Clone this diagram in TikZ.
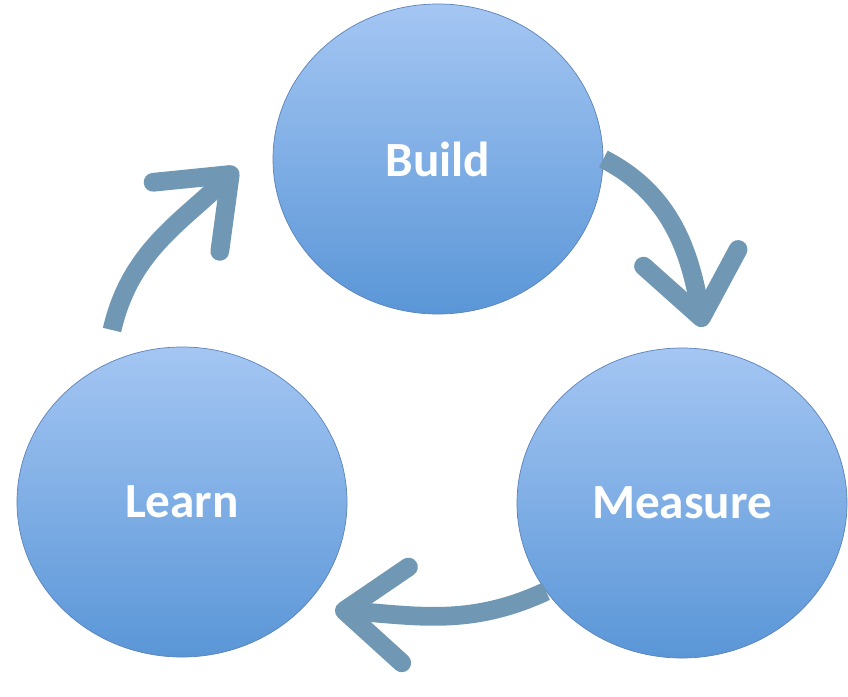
\documentclass[tikz,border=0pt]{standalone}
\usepackage{fontspec}
\usepackage{tikz}
\usepackage{xcolor}
\usetikzlibrary{arrows.meta,shapes.geometric}
\newfontfamily\stagefont{Carlito}

\begin{document}
\begin{tikzpicture}[x=0.03cm,y=-0.03cm]
    % Define colors for the cycle
    \definecolor{stagetop}{RGB}{164,198,243}
    \definecolor{stagebottom}{RGB}{90,150,215}
    \definecolor{stageline}{RGB}{92,130,184}
    \definecolor{loopline}{RGB}{112,152,180}

    \tikzset{
        stage/.style={ellipse, draw=stageline, line width=0.6pt,
            top color=stagetop, bottom color=stagebottom,
            minimum width=9.9cm, minimum height=9.3cm, inner sep=0pt,
            text=white, font=\stagefont\bfseries\fontsize{42}{50}\selectfont},
        cyclearrow/.style={draw=loopline, line width=16pt,
            -{Straight Barb[length=52pt,width=82pt,round]}}
    }

    \useasboundingbox (0,0) rectangle (848,696);

    % Draw the three stages
    \foreach \name/\x/\y/\txt in {build/438/159/Build, measure/682/503/Measure, learn/182/502/Learn} {
        \node[stage] (\name) at (\x,\y) {\txt};
    }

    % Loose ends of the arrows
    \coordinate (learntail) at (112,330);
    \coordinate (buildtip) at (237,168);
    \coordinate (measuretip) at (703,327);
    \coordinate (learntip) at (335,610);

    % Draw the arrows round the cycle
    \draw[cyclearrow] (learntail) to[out=77,in=224] (buildtip);
    \draw[cyclearrow] (build.east) to[out=-27,in=100] (measuretip);
    \draw[cyclearrow] (measure.-147) to[out=205,in=-4] (learntip);
\end{tikzpicture}
\end{document}
